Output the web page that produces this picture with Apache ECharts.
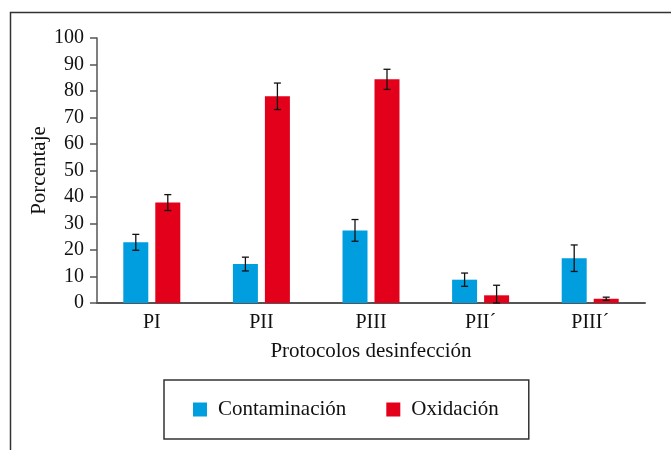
<!DOCTYPE html>
<html>
<head>
<meta charset="utf-8">
<script src="https://cdn.jsdelivr.net/npm/echarts@6/dist/echarts.min.js"></script>
<style>
  html, body { margin: 0; padding: 0; background: #fff; }
  #chart { width: 671px; height: 450px; }
</style>
</head>
<body>
<div id="chart"></div>
<script>
// datos
var protocolos = ["PI", "PII", "PIII", "PII´", "PIII´"];
var contaminacion = [22.9, 14.7, 27.4, 8.8, 16.9];
var contaminacion_err = [3.0, 2.6, 4.1, 2.5, 5.0];
var oxidacion = [37.9, 78.0, 84.4, 2.9, 1.6];
var oxidacion_err = [3.0, 5.0, 3.8, 3.8, 0.6];

var fuente = "Liberation Serif";
var azul = "#009EDF";
var rojo = "#E2001A";

function errorSeries(vals, errs, offset) {
  var data = [];
  for (var i = 0; i < vals.length; i++) {
    data.push([i, vals[i] - errs[i], vals[i] + errs[i]]);
  }
  return {
    type: "custom",
    silent: true,
    z: 10,
    data: data,
    renderItem: function (params, api) {
      var lo = api.coord([api.value(0), Math.max(api.value(1), 0)]);
      var hi = api.coord([api.value(0), api.value(2)]);
      var x = lo[0] + offset;
      var cap = 3.5;
      var st = { stroke: "#111", lineWidth: 1.3 };
      return {
        type: "group",
        children: [
          { type: "line", shape: { x1: x, y1: lo[1], x2: x, y2: hi[1] }, style: st },
          { type: "line", shape: { x1: x - cap, y1: hi[1], x2: x + cap, y2: hi[1] }, style: st },
          { type: "line", shape: { x1: x - cap, y1: lo[1], x2: x + cap, y2: lo[1] }, style: st },
        ],
      };
    },
  };
}

var chart = echarts.init(document.getElementById("chart"));
var option = {
  animation: false,
  textStyle: { fontFamily: fuente },
  graphic: [
    {
      type: "rect",
      left: 8,
      top: 10,
      shape: { width: 720, height: 520 },
      style: { fill: "none", stroke: "#333", lineWidth: 1.5 },
      z: -1,
    },
  ],
  grid: { left: 97, right: 26, top: 38, bottom: 147 },
  legend: {
    left: 164,
    top: 380,
    padding: [19, 30, 19, 29],
    borderColor: "#333",
    borderWidth: 1.5,
    itemWidth: 14,
    itemHeight: 14,
    itemGap: 40,
    icon: "rect",
    textStyle: { fontFamily: fuente, fontSize: 21, color: "#111", padding: [0, 0, 0, 6] },
    data: ["Contaminación", "Oxidación"],
  },
  xAxis: {
    type: "category",
    data: protocolos,
    name: "Protocolos desinfección",
    nameLocation: "middle",
    nameGap: 38,
    nameTextStyle: { fontFamily: fuente, fontSize: 21, color: "#111" },
    axisLine: { lineStyle: { color: "#555", width: 2 } },
    axisTick: { show: false },
    axisLabel: { fontFamily: fuente, fontSize: 20, color: "#111", margin: 10 },
  },
  yAxis: {
    type: "value",
    min: 0,
    max: 100,
    interval: 10,
    name: "Porcentaje",
    nameLocation: "middle",
    nameGap: 47,
    nameMoveOverlap: false,
    nameTextStyle: { fontFamily: fuente, fontSize: 21, color: "#111" },
    splitLine: { show: false },
    axisLine: { show: true, lineStyle: { color: "#555", width: 1.5 } },
    axisTick: { show: true, length: 7, lineStyle: { color: "#555", width: 1.5 } },
    axisLabel: { fontFamily: fuente, fontSize: 20, color: "#111", margin: 13 },
  },
  series: [
    {
      name: "Contaminación",
      type: "bar",
      data: contaminacion,
      barWidth: 25,
      barGap: "28%",
      itemStyle: { color: azul },
    },
    {
      name: "Oxidación",
      type: "bar",
      data: oxidacion,
      barWidth: 25,
      itemStyle: { color: rojo },
    },
    errorSeries(contaminacion, contaminacion_err, -16),
    errorSeries(oxidacion, oxidacion_err, 16),
  ],
};
chart.setOption(option);
</script>
</body>
</html>
